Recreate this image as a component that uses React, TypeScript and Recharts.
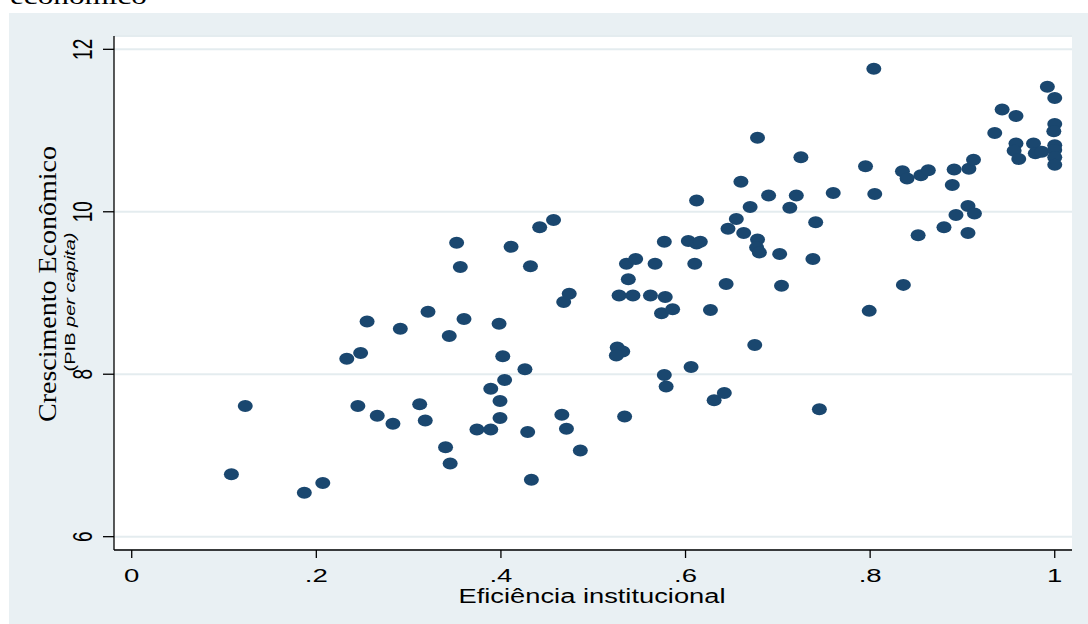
import React from "react";
import { CartesianGrid, Scatter, ScatterChart, XAxis, YAxis } from "recharts";

// Eficiência institucional (x) e crescimento econômico (y)
const eficiencia = [
  0.108, 0.123, 0.187, 0.207, 0.233, 0.248, 0.245, 0.255, 0.266, 0.283,
  0.291, 0.312, 0.318, 0.321, 0.34, 0.345, 0.344, 0.352, 0.356, 0.36,
  0.374, 0.389, 0.389, 0.398, 0.399, 0.399, 0.402, 0.404, 0.411, 0.426,
  0.429, 0.432, 0.433, 0.442, 0.457, 0.466, 0.468, 0.474, 0.471, 0.486,
  0.526, 0.532, 0.525, 0.534, 0.528, 0.543, 0.562, 0.578, 0.574, 0.586,
  0.627, 0.538, 0.536, 0.546, 0.567, 0.61, 0.644, 0.704, 0.577, 0.603,
  0.612, 0.616, 0.646, 0.663, 0.678, 0.677, 0.68, 0.702, 0.655, 0.67,
  0.612, 0.66, 0.678, 0.69, 0.713, 0.72, 0.725, 0.741, 0.738, 0.76,
  0.804, 0.795, 0.805, 0.799, 0.675, 0.577, 0.579, 0.606, 0.631, 0.642,
  0.745, 0.836, 0.835, 0.84, 0.855, 0.863, 0.852, 0.88, 0.906, 0.891,
  0.907, 0.912, 0.889, 0.906, 0.893, 0.913, 0.935, 0.943, 0.958, 0.992,
  1.0, 1.0, 0.999, 0.958, 0.956, 0.961, 0.977, 0.979, 0.986, 1.0,
  1.0, 1.0, 1.0,
];
const crescimento = [
  6.77, 7.61, 6.54, 6.66, 8.19, 8.26, 7.61, 8.65, 7.49, 7.39,
  8.56, 7.63, 7.43, 8.77, 7.1, 6.9, 8.47, 9.62, 9.32, 8.68,
  7.32, 7.32, 7.82, 8.62, 7.67, 7.46, 8.22, 7.93, 9.57, 8.06,
  7.29, 9.33, 6.7, 9.81, 9.9, 7.5, 8.89, 8.99, 7.33, 7.06,
  8.33, 8.28, 8.23, 7.48, 8.97, 8.97, 8.97, 8.95, 8.75, 8.8,
  8.79, 9.17, 9.36, 9.42, 9.36, 9.36, 9.11, 9.09, 9.63, 9.64,
  9.61, 9.63, 9.79, 9.74, 9.66, 9.56, 9.5, 9.48, 9.91, 10.06,
  10.14, 10.37, 10.91, 10.2, 10.05, 10.2, 10.67, 9.87, 9.42, 10.23,
  11.76, 10.56, 10.22, 8.78, 8.36, 7.99, 7.85, 8.09, 7.68, 7.77,
  7.57, 9.1, 10.5, 10.41, 10.45, 10.51, 9.71, 9.81, 9.74, 10.52,
  10.53, 10.64, 10.33, 10.07, 9.96, 9.98, 10.97, 11.26, 11.18, 11.54,
  11.4, 11.08, 10.99, 10.84, 10.75, 10.65, 10.84, 10.72, 10.74, 10.82,
  10.76, 10.67, 10.58,
];
const xTicks = [0, 0.2, 0.4, 0.6, 0.8, 1];
const xTickLabels = ["0", ".2", ".4", ".6", ".8", "1"];
const yTicks = [6, 8, 10, 12];
const yTickLabels = ["6", "8", "10", "12"];

const points = eficiencia.map((x, i) => ({ x, y: crescimento[i] }));

const sans = "'Liberation Sans', Arial, sans-serif";
const serif = "'Liberation Serif', 'Times New Roman', serif";

function XTick({ x, y, payload }: any) {
  const label = xTickLabels[xTicks.indexOf(payload.value)];
  return (
    <text
      transform={`translate(${x},${y + 22}) scale(1.45,1)`}
      textAnchor="middle"
      fontFamily={sans}
      fontSize={19}
      fill="#000"
    >
      {label}
    </text>
  );
}

function YTick({ x, y, payload }: any) {
  const label = yTickLabels[yTicks.indexOf(payload.value)];
  return (
    <text
      transform={`translate(${x - 9},${y}) scale(1.45,1) rotate(-90)`}
      textAnchor="middle"
      fontFamily={sans}
      fontSize={19}
      fill="#000"
    >
      {label}
    </text>
  );
}

function Dot({ cx, cy }: any) {
  return <ellipse cx={cx} cy={cy} rx={7.5} ry={6} fill="#1a476f" />;
}

export default function App() {
  return (
    <div style={{ position: "absolute", left: 0, top: 0, width: 1088, height: 624, background: "#fff", overflow: "hidden" }}>
      <div style={{ position: "absolute", left: 9, top: 13, right: 0, bottom: 0, background: "#e9f0f3" }} />
      <div style={{ position: "absolute", left: 0, top: 0 }}>
        <ScatterChart width={1088} height={624} margin={{ top: 36, right: 16, bottom: 0, left: 0 }}>
          <CartesianGrid vertical={false} fill="#fff" stroke="#e4ecef" strokeWidth={2} />
          <XAxis
            type="number"
            dataKey="x"
            domain={[-0.0192, 1.0187]}
            ticks={xTicks}
            allowDataOverflow
            height={74}
            tickSize={8}
            tick={<XTick />}
            axisLine={{ stroke: "#000", strokeWidth: 1.3 }}
            tickLine={{ stroke: "#000", strokeWidth: 1.3 }}
          />
          <YAxis
            type="number"
            dataKey="y"
            domain={[5.836, 12.164]}
            ticks={yTicks}
            allowDataOverflow
            width={114}
            tickSize={11}
            tick={<YTick />}
            axisLine={{ stroke: "#000", strokeWidth: 1.3 }}
            tickLine={{ stroke: "#000", strokeWidth: 1.3 }}
          />
          <Scatter data={points} shape={<Dot />} isAnimationActive={false} />
        </ScatterChart>
      </div>
      <svg width={1088} height={624} style={{ position: "absolute", left: 0, top: 0, pointerEvents: "none" }}>
        <text transform="translate(10,4) scale(1.3,1)" fontFamily={serif} fontSize={24} fill="#000">
          econômico
        </text>
        <text transform="translate(56,284) scale(0.92,1) rotate(-90)" textAnchor="middle" fontFamily={serif} fontSize={28} fill="#000">
          Crescimento Econômico
        </text>
        <text transform="translate(75,302) scale(0.75,1) rotate(-90)" textAnchor="middle" fontFamily={sans} fontSize={20} fill="#000">
          (PIB <tspan fontStyle="italic">per capita)</tspan>
        </text>
        <text transform="translate(592,603) scale(1.3,1)" textAnchor="middle" fontFamily={sans} fontSize={21} fill="#000">
          Eficiência institucional
        </text>
      </svg>
    </div>
  );
}
